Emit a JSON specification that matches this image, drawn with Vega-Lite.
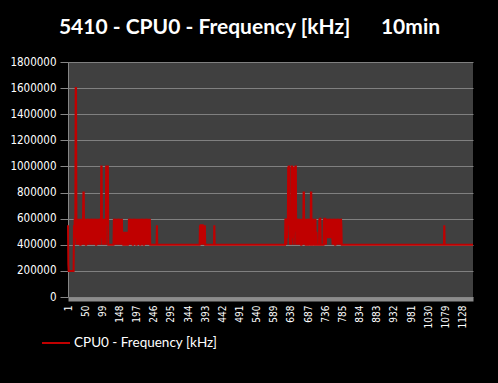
{
  "$schema": "https://vega.github.io/schema/vega-lite/v6.json",
  "width": 405,
  "height": 235,
  "autosize": {"type": "none"},
  "padding": {"left": 68, "top": 62, "right": 25, "bottom": 86},
  "background": "#000000",
  "title": {
    "text": "5410 - CPU0 - Frequency [kHz]\u00a0\u00a0\u00a0\u00a0\u00a0\u00a010min",
    "font": "Lato",
    "fontSize": 21,
    "fontWeight": "bold",
    "color": "#ffffff",
    "anchor": "middle",
    "frame": "group",
    "dx": -21,
    "dy": 28,
    "baseline": "alphabetic",
    "offset": 29
  },
  "config": {
    "view": {"fill": "#404040", "stroke": null}
  },
  "data": {
    "values": [
      {"t":1,"f":550000},{"t":2,"f":250000},{"t":3,"f":200000},{"t":17,"f":200000},{"t":18,"f":550000},{"t":19,"f":400000},{"t":20,"f":600000},{"t":21,"f":450000},{"t":22,"f":550000},{"t":23,"f":1600000},{"t":24,"f":1600000},{"t":25,"f":600000},{"t":26,"f":400000},{"t":27,"f":600000},{"t":28,"f":400000},{"t":29,"f":600000},{"t":30,"f":450000},{"t":31,"f":600000},{"t":32,"f":400000},{"t":33,"f":550000},{"t":34,"f":400000},{"t":35,"f":600000},{"t":36,"f":400000},{"t":37,"f":400000},{"t":38,"f":600000},{"t":39,"f":500000},{"t":40,"f":600000},{"t":41,"f":400000},{"t":42,"f":550000},{"t":43,"f":400000},{"t":44,"f":600000},{"t":45,"f":800000},{"t":46,"f":800000},{"t":47,"f":400000},{"t":48,"f":600000},{"t":49,"f":400000},{"t":50,"f":500000},{"t":51,"f":600000},{"t":52,"f":400000},{"t":53,"f":400000},{"t":54,"f":600000},{"t":55,"f":450000},{"t":56,"f":600000},{"t":57,"f":400000},{"t":58,"f":550000},{"t":59,"f":600000},{"t":60,"f":400000},{"t":61,"f":600000},{"t":62,"f":500000},{"t":63,"f":600000},{"t":64,"f":450000},{"t":65,"f":600000},{"t":66,"f":400000},{"t":67,"f":600000},{"t":68,"f":550000},{"t":69,"f":400000},{"t":70,"f":600000},{"t":71,"f":500000},{"t":72,"f":600000},{"t":73,"f":450000},{"t":74,"f":400000},{"t":75,"f":600000},{"t":76,"f":400000},{"t":77,"f":550000},{"t":78,"f":600000},{"t":79,"f":450000},{"t":80,"f":600000},{"t":81,"f":400000},{"t":82,"f":400000},{"t":83,"f":600000},{"t":84,"f":500000},{"t":85,"f":550000},{"t":86,"f":400000},{"t":87,"f":600000},{"t":88,"f":450000},{"t":89,"f":600000},{"t":90,"f":400000},{"t":91,"f":550000},{"t":92,"f":600000},{"t":93,"f":400000},{"t":94,"f":550000},{"t":95,"f":500000},{"t":96,"f":1000000},{"t":97,"f":1000000},{"t":98,"f":450000},{"t":99,"f":600000},{"t":100,"f":400000},{"t":101,"f":550000},{"t":102,"f":600000},{"t":103,"f":450000},{"t":104,"f":550000},{"t":105,"f":400000},{"t":106,"f":600000},{"t":107,"f":450000},{"t":108,"f":550000},{"t":109,"f":400000},{"t":110,"f":1000000},{"t":111,"f":1000000},{"t":112,"f":550000},{"t":113,"f":1000000},{"t":114,"f":1000000},{"t":115,"f":1000000},{"t":116,"f":400000},{"t":131,"f":400000},
      {"t":132,"f":600000},{"t":133,"f":400000},{"t":134,"f":550000},{"t":135,"f":600000},{"t":136,"f":400000},{"t":137,"f":600000},{"t":138,"f":450000},{"t":139,"f":600000},{"t":140,"f":400000},{"t":141,"f":500000},{"t":142,"f":600000},{"t":143,"f":400000},{"t":144,"f":600000},{"t":145,"f":550000},{"t":146,"f":400000},{"t":147,"f":600000},{"t":148,"f":450000},{"t":149,"f":600000},{"t":150,"f":400000},{"t":151,"f":600000},{"t":152,"f":500000},{"t":153,"f":600000},{"t":154,"f":400000},{"t":155,"f":600000},{"t":156,"f":450000},{"t":157,"f":400000},{"t":158,"f":500000},{"t":159,"f":400000},{"t":160,"f":400000},{"t":161,"f":500000},{"t":162,"f":450000},{"t":163,"f":400000},{"t":164,"f":500000},{"t":165,"f":400000},{"t":166,"f":400000},{"t":167,"f":500000},{"t":168,"f":400000},{"t":169,"f":450000},{"t":170,"f":500000},{"t":171,"f":400000},{"t":172,"f":400000},{"t":173,"f":500000},{"t":174,"f":400000},{"t":175,"f":600000},{"t":176,"f":400000},{"t":177,"f":600000},{"t":178,"f":550000},{"t":179,"f":400000},{"t":180,"f":600000},{"t":181,"f":450000},{"t":182,"f":600000},{"t":183,"f":400000},{"t":184,"f":600000},{"t":185,"f":500000},{"t":186,"f":400000},{"t":187,"f":400000},{"t":188,"f":600000},{"t":189,"f":400000},{"t":190,"f":550000},{"t":191,"f":600000},{"t":192,"f":400000},{"t":193,"f":600000},{"t":194,"f":450000},{"t":195,"f":600000},{"t":196,"f":400000},{"t":197,"f":400000},{"t":198,"f":600000},{"t":199,"f":500000},{"t":200,"f":600000},{"t":201,"f":400000},{"t":202,"f":550000},{"t":203,"f":400000},{"t":204,"f":600000},{"t":205,"f":450000},{"t":206,"f":600000},{"t":207,"f":400000},{"t":208,"f":400000},{"t":209,"f":600000},{"t":210,"f":400000},{"t":211,"f":600000},{"t":212,"f":550000},{"t":213,"f":400000},{"t":214,"f":600000},{"t":215,"f":450000},{"t":216,"f":600000},{"t":217,"f":400000},{"t":218,"f":400000},{"t":219,"f":600000},{"t":220,"f":400000},{"t":221,"f":500000},{"t":222,"f":600000},{"t":223,"f":400000},{"t":224,"f":600000},{"t":225,"f":550000},{"t":226,"f":400000},{"t":227,"f":600000},{"t":228,"f":400000},{"t":229,"f":600000},{"t":230,"f":450000},{"t":231,"f":600000},{"t":232,"f":400000},{"t":233,"f":600000},{"t":234,"f":500000},{"t":235,"f":600000},{"t":236,"f":400000},{"t":254,"f":400000},{"t":255,"f":550000},{"t":256,"f":400000},
      {"t":377,"f":400000},{"t":378,"f":550000},{"t":379,"f":400000},{"t":380,"f":550000},{"t":381,"f":550000},{"t":382,"f":400000},{"t":383,"f":550000},{"t":384,"f":400000},{"t":385,"f":550000},{"t":386,"f":550000},{"t":387,"f":400000},{"t":388,"f":550000},{"t":389,"f":400000},{"t":390,"f":550000},{"t":391,"f":400000},{"t":392,"f":550000},{"t":393,"f":400000},{"t":418,"f":400000},{"t":419,"f":550000},{"t":420,"f":400000},
      {"t":621,"f":400000},{"t":622,"f":600000},{"t":623,"f":550000},{"t":624,"f":600000},{"t":625,"f":400000},{"t":626,"f":600000},{"t":627,"f":450000},{"t":628,"f":600000},{"t":629,"f":550000},{"t":630,"f":1000000},{"t":631,"f":600000},{"t":632,"f":1000000},{"t":633,"f":1000000},{"t":634,"f":500000},{"t":635,"f":400000},{"t":636,"f":600000},{"t":637,"f":450000},{"t":638,"f":550000},{"t":639,"f":400000},{"t":640,"f":1000000},{"t":641,"f":1000000},{"t":642,"f":550000},{"t":643,"f":1000000},{"t":644,"f":450000},{"t":645,"f":600000},{"t":646,"f":400000},{"t":647,"f":550000},{"t":648,"f":600000},{"t":649,"f":1000000},{"t":650,"f":500000},{"t":651,"f":1000000},{"t":652,"f":1000000},{"t":653,"f":400000},{"t":654,"f":600000},{"t":655,"f":450000},{"t":656,"f":600000},{"t":657,"f":400000},{"t":658,"f":550000},{"t":659,"f":600000},{"t":660,"f":400000},{"t":661,"f":600000},{"t":662,"f":500000},{"t":663,"f":400000},{"t":664,"f":600000},{"t":665,"f":450000},{"t":666,"f":600000},{"t":667,"f":400000},{"t":668,"f":400000},{"t":669,"f":600000},{"t":670,"f":550000},{"t":671,"f":400000},{"t":672,"f":600000},{"t":673,"f":450000},{"t":674,"f":800000},{"t":675,"f":800000},{"t":676,"f":400000},{"t":677,"f":600000},{"t":678,"f":400000},{"t":679,"f":550000},{"t":680,"f":400000},{"t":681,"f":400000},{"t":682,"f":600000},{"t":683,"f":500000},{"t":684,"f":400000},{"t":685,"f":600000},{"t":686,"f":400000},{"t":687,"f":400000},{"t":688,"f":550000},{"t":689,"f":600000},{"t":690,"f":400000},{"t":691,"f":450000},{"t":692,"f":600000},{"t":693,"f":400000},{"t":694,"f":400000},{"t":695,"f":800000},{"t":696,"f":800000},{"t":697,"f":400000},{"t":698,"f":600000},{"t":699,"f":400000},{"t":700,"f":400000},{"t":701,"f":550000},{"t":702,"f":400000},{"t":703,"f":600000},{"t":704,"f":400000},{"t":705,"f":450000},{"t":706,"f":400000},{"t":707,"f":400000},{"t":708,"f":600000},{"t":709,"f":400000},{"t":710,"f":400000},{"t":711,"f":500000},{"t":712,"f":400000},{"t":718,"f":400000},{"t":719,"f":600000},{"t":720,"f":400000},{"t":721,"f":600000},{"t":722,"f":600000},{"t":723,"f":400000},{"t":731,"f":400000},{"t":732,"f":600000},{"t":733,"f":400000},{"t":734,"f":600000},{"t":735,"f":600000},{"t":736,"f":450000},{"t":737,"f":600000},{"t":738,"f":400000},{"t":739,"f":600000},{"t":740,"f":550000},{"t":741,"f":450000},{"t":742,"f":600000},{"t":743,"f":450000},{"t":744,"f":600000},{"t":745,"f":500000},{"t":746,"f":600000},{"t":747,"f":450000},{"t":748,"f":600000},{"t":749,"f":550000},{"t":750,"f":450000},{"t":751,"f":600000},{"t":752,"f":450000},{"t":753,"f":600000},{"t":754,"f":500000},{"t":755,"f":600000},{"t":756,"f":450000},{"t":757,"f":400000},{"t":758,"f":600000},{"t":759,"f":400000},{"t":760,"f":600000},{"t":761,"f":550000},{"t":762,"f":400000},{"t":763,"f":600000},{"t":764,"f":400000},{"t":765,"f":400000},{"t":766,"f":600000},{"t":767,"f":450000},{"t":768,"f":600000},{"t":769,"f":400000},{"t":770,"f":600000},{"t":771,"f":400000},{"t":772,"f":550000},{"t":773,"f":600000},{"t":774,"f":400000},{"t":775,"f":600000},{"t":776,"f":400000},{"t":777,"f":600000},{"t":778,"f":450000},{"t":779,"f":600000},{"t":780,"f":400000},{"t":781,"f":600000},{"t":782,"f":550000},{"t":783,"f":400000},
      {"t":1075,"f":400000},{"t":1076,"f":550000},{"t":1077,"f":400000},{"t":1158,"f":400000}
    ]
  },
  "mark": {"type": "line", "strokeWidth": 2, "interpolate": "linear"},
  "encoding": {
    "x": {
      "field": "t",
      "type": "quantitative",
      "scale": {"domain": [1, 1158], "nice": false, "zero": false},
      "axis": {
        "title": null,
        "values": [1,50,99,148,197,246,295,344,393,442,491,540,589,638,687,736,785,834,883,932,981,1030,1079,1128],
        "format": "d",
        "labelAngle": 270,
        "labelAlign": "right",
        "labelBaseline": "middle",
        "labelFont": "DejaVu Sans Condensed, DejaVu Sans",
        "labelFontSize": 10,
        "labelColor": "#ffffff",
        "labelPadding": 6,
        "labelOverlap": false,
        "labelFlush": false,
        "ticks": false,
        "grid": false,
        "domainColor": "#8c8c8c",
        "domainWidth": 4,
        "offset": 2
      }
    },
    "y": {
      "field": "f",
      "type": "quantitative",
      "scale": {"domain": [0, 1800000], "nice": false},
      "axis": {
        "title": null,
        "values": [0,200000,400000,600000,800000,1000000,1200000,1400000,1600000,1800000],
        "format": "d",
        "labelFont": "DejaVu Sans Condensed, DejaVu Sans",
        "labelFontSize": 11.5,
        "labelColor": "#ffffff",
        "labelPadding": 4,
        "tickSize": 8,
        "tickColor": "#868686",
        "domainColor": "#868686",
        "grid": true,
        "gridColor": "#808080",
        "gridWidth": 1
      }
    },
    "color": {
      "datum": "CPU0 - Frequency [kHz]",
      "type": "nominal",
      "scale": {"range": ["#c00000"]},
      "legend": {
        "title": null,
        "orient": "none",
        "legendX": -27,
        "legendY": 266,
        "padding": 0,
        "symbolType": "stroke",
        "symbolSize": 784,
        "symbolStrokeWidth": 2,
        "labelFont": "Lato",
        "labelFontSize": 13.5,
        "labelColor": "#ffffff",
        "labelOffset": 3
      }
    }
  }
}
